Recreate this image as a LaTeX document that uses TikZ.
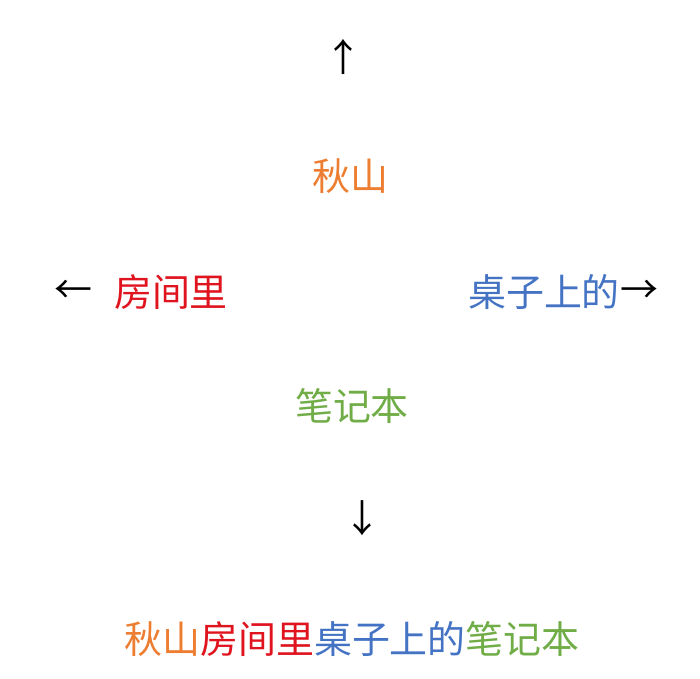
\documentclass[tikz,border=0pt]{standalone}
\usepackage{fontspec}
\newfontfamily\cjk{Noto Sans CJK SC}
\usetikzlibrary{positioning}

\begin{document}
\begin{tikzpicture}

	\definecolor{qiucolor}{rgb}{0.93,0.49,0.19}
	\definecolor{roomcolor}{rgb}{0.88,0.08,0.12}
	\definecolor{deskcolor}{rgb}{0.27,0.45,0.77}
	\definecolor{notecolor}{rgb}{0.44,0.68,0.28}

	\tikzset{word/.style={inner sep=0pt, align=center, font=\cjk\fontsize{21.6pt}{26pt}\selectfont}}

	\useasboundingbox (0,0) rectangle (14,13.58);

	\node(qiu) at (7.0,10.06) [word, text=qiucolor]{秋山};
	\node(up) at (6.86,12.44) [word]{↑};

	\node(room) at (3.42,7.74) [word, text=roomcolor]{房间里};
	\node(left)[left=0.42cm of room, word]{←};

	\node(desk) at (10.88,7.74) [word, text=deskcolor]{桌子上的};
	\node(right)[right=0cm of desk, word]{→};

	\node(note) at (7.04,5.46) [word, text=notecolor]{笔记本};
	\node(down) at (7.24,3.22) [word]{↓};

	\node(sentence) at (7.04,0.80) [word]{\textcolor{qiucolor}{秋山}\textcolor{roomcolor}{房间里}\textcolor{deskcolor}{桌子上的}\textcolor{notecolor}{笔记本}};

\end{tikzpicture}
\end{document}
